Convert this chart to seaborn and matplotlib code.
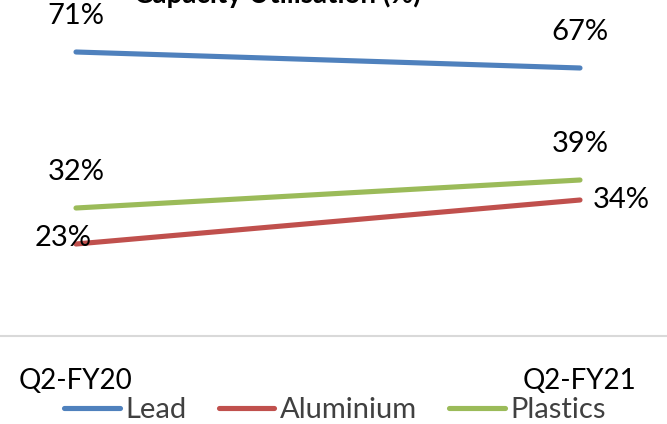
import matplotlib
matplotlib.use("Agg")
import matplotlib.pyplot as plt
import seaborn as sns
import pandas as pd
from matplotlib.lines import Line2D

categories = ["Q2-FY20", "Q2-FY21"]
series_names = ["Lead", "Aluminium", "Plastics"]
lead = [71, 67]
aluminium = [23, 34]
plastics = [32, 39]
title = "Capacity Utilisation (%)"
colors = ["#4F81BD", "#C0504D", "#9BBB59"]

sns.set_theme(style="white")
plt.rcParams["font.family"] = ["Lato", "DejaVu Sans"]

rows = []
for name, vals in zip(series_names, [lead, aluminium, plastics]):
    for i, (c, v) in enumerate(zip(categories, vals)):
        rows.append({"series": name, "pos": i, "category": c, "value": v})
df = pd.DataFrame(rows)

W, H = 667, 424
fig = plt.figure(figsize=(W / 100, H / 100), dpi=100)
ax = fig.add_axes([0, (H - 336) / H, 1, 320 / H])

sns.lineplot(data=df, x="pos", y="value", hue="series", hue_order=series_names,
             palette=colors, linewidth=3.7, solid_capstyle="round", ax=ax, legend=False)

ax.set_ylim(0, 80)
ax.set_xlim(-76 / 504, 1 + 87 / 504)
ax.set_xticks(range(len(categories)))
ax.set_xticklabels(categories, fontsize=20, color="black")
ax.tick_params(axis="x", length=0, pad=23)
ax.set_yticks([])
ax.set_xlabel("")
ax.set_ylabel("")
for s in ["top", "left", "right"]:
    ax.spines[s].set_visible(False)
ax.spines["bottom"].set_color("#d9d9d9")
ax.spines["bottom"].set_linewidth(1.5)

fs = 21
px = 0.72  # points per pixel at dpi 100
# data labels
for vals, kind in [(lead, "above"), (plastics, "above"), (aluminium, "side")]:
    for i, v in enumerate(vals):
        if kind == "above":
            off = (0, 36 * px)
        elif i == 0:
            off = (-13 * px, 6 * px)
        else:
            off = (41 * px, 0)
        ax.annotate(f"{v}%", (i, v), xytext=off, textcoords="offset points",
                    ha="center", va="center", fontsize=fs, color="black")

handles = [Line2D([0], [0], color=c, lw=3.7, solid_capstyle="round") for c in colors]
fig.legend(handles, series_names, loc="center", bbox_to_anchor=(335 / W, 1 - 410 / H),
           ncol=3, frameon=False, fontsize=fs, handlelength=1.9, handletextpad=0.2,
           columnspacing=1.1, labelcolor="#404040")

fig.text(277 / W, 1 - 3 / H, title, ha="center", va="baseline", fontsize=20,
         fontweight="bold", color="black")

fig.savefig("out.png", dpi=100)
